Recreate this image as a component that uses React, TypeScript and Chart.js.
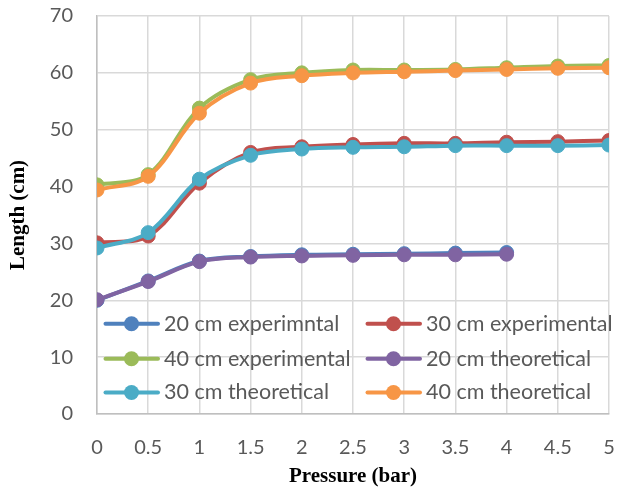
import React, { useEffect, useRef } from "react";
import { Chart, registerables } from "chart.js";

Chart.register(...registerables);

// ---- data ----
const pressure = [0, 0.5, 1, 1.5, 2, 2.5, 3, 3.5, 4, 4.5, 5];
const exp20 = [20.0, 23.4, 26.9, 27.7, 28.0, 28.1, 28.2, 28.3, 28.4];
const exp30 = [30.1, 31.3, 40.6, 46.0, 47.0, 47.4, 47.6, 47.6, 47.8, 47.9, 48.1];
const exp40 = [40.3, 42.1, 53.8, 58.8, 60.0, 60.5, 60.5, 60.6, 60.9, 61.2, 61.3];
const theo20 = [20.1, 23.3, 26.8, 27.6, 27.8, 27.9, 28.0, 28.0, 28.1];
const theo30 = [29.2, 31.9, 41.3, 45.5, 46.6, 46.9, 47.0, 47.2, 47.2, 47.2, 47.3];
const theo40 = [39.4, 41.8, 52.9, 58.2, 59.5, 60.0, 60.2, 60.4, 60.6, 60.8, 60.9];

const seriesNames = [
  "20 cm experimntal",
  "30 cm experimental",
  "40 cm experimental",
  "20 cm theoretical",
  "30 cm theoretical",
  "40 cm theoretical",
];
const seriesValues = [exp20, exp30, exp40, theo20, theo30, theo40];
const seriesColors = ["#4F81BD", "#C0504D", "#9BBB59", "#8064A2", "#4BACC6", "#F79646"];

const xTitle = "Pressure (bar)";
const yTitle = "Length (cm)";

const TICK_COLOR = "#595959";
const GRID_COLOR = "#d9d9d9";
const AXIS_COLOR = "#bfbfbf";

const insideLegend = {
  id: "insideLegend",
  afterDraw(chart: any) {
    const ctx = chart.ctx;
    const area = chart.chartArea;
    const cols = [area.left + 8.5, area.left + 270.5];
    const rows = [area.bottom - 90.2, area.bottom - 55.3, area.bottom - 21.5];
    chart.data.datasets.forEach((ds: any, i: number) => {
      const x = cols[i % 2];
      const y = rows[Math.floor(i / 2)];
      ctx.save();
      ctx.strokeStyle = ds.borderColor;
      ctx.lineWidth = 4;
      ctx.lineCap = "round";
      ctx.beginPath();
      ctx.moveTo(x, y);
      ctx.lineTo(x + 52.5, y);
      ctx.stroke();
      ctx.fillStyle = ds.borderColor;
      ctx.beginPath();
      ctx.arc(x + 26, y, 7.5, 0, Math.PI * 2);
      ctx.fill();
      ctx.fillStyle = TICK_COLOR;
      ctx.font = "21.5px Lato";
      ctx.textBaseline = "middle";
      ctx.textAlign = "left";
      ctx.fillText(ds.label, x + 58.5, y);
      ctx.restore();
    });
  },
};

const fmt = (v: any) => String(Number(Number(v).toFixed(2)));

export default function App() {
  const canvasRef = useRef<HTMLCanvasElement | null>(null);

  useEffect(() => {
    if (!canvasRef.current) return;
    const datasets = seriesValues.map((vals, i) => ({
      label: seriesNames[i],
      data: vals.map((v, j) => ({ x: pressure[j], y: v })),
      borderColor: seriesColors[i],
      backgroundColor: seriesColors[i],
      pointBackgroundColor: seriesColors[i],
      pointBorderColor: seriesColors[i],
      pointRadius: 7,
      pointBorderWidth: 1,
      borderWidth: 4,
      tension: 0.35,
      order: 10 - i,
    }));

    const chart = new Chart(canvasRef.current, {
      type: "line",
      data: { datasets },
      plugins: [insideLegend],
      options: {
        responsive: false,
        animation: false,
        layout: { padding: { top: 16, right: 3, left: 0, bottom: 0 } },
        plugins: {
          legend: { display: false },
          tooltip: { enabled: false },
        },
        scales: {
          x: {
            type: "linear",
            min: 0,
            max: 5,
            ticks: {
              stepSize: 0.5,
              color: TICK_COLOR,
              font: { family: "Lato", size: 20 },
              padding: 22,
              maxRotation: 0,
              callback: fmt,
            },
            grid: { color: GRID_COLOR, lineWidth: 1.5, drawTicks: false },
            border: { color: AXIS_COLOR, width: 1.5 },
            title: {
              display: true,
              text: xTitle,
              color: "#000",
              font: { family: "Liberation Serif", size: 21, weight: "bold" },
              padding: { top: 0, bottom: 0 },
            },
            afterFit: (scale: any) => {
              scale.height = 75;
              scale.paddingLeft = 0;
              scale.paddingRight = 0;
              scale.paddingTop = 0;
              scale.paddingBottom = 0;
            },
          },
          y: {
            min: 0,
            max: 70,
            ticks: {
              stepSize: 10,
              color: TICK_COLOR,
              font: { family: "Lato", size: 20 },
              padding: 24,
              callback: fmt,
            },
            grid: { color: GRID_COLOR, lineWidth: 1.5, drawTicks: false },
            border: { color: AXIS_COLOR, width: 1.5 },
            title: {
              display: true,
              text: yTitle,
              color: "#000",
              font: { family: "Liberation Serif", size: 21, weight: "bold" },
              padding: { top: 6, bottom: 0 },
            },
            afterFit: (scale: any) => {
              scale.width = 97;
              scale.paddingLeft = 0;
              scale.paddingRight = 0;
              scale.paddingTop = 0;
              scale.paddingBottom = 0;
            },
          },
        },
      },
    } as any);
    return () => chart.destroy();
  }, []);

  return (
    <div style={{ position: "absolute", left: 0, top: 0, width: 617, height: 489, background: "#fff" }}>
      <canvas ref={canvasRef} width={617} height={489} />
    </div>
  );
}
